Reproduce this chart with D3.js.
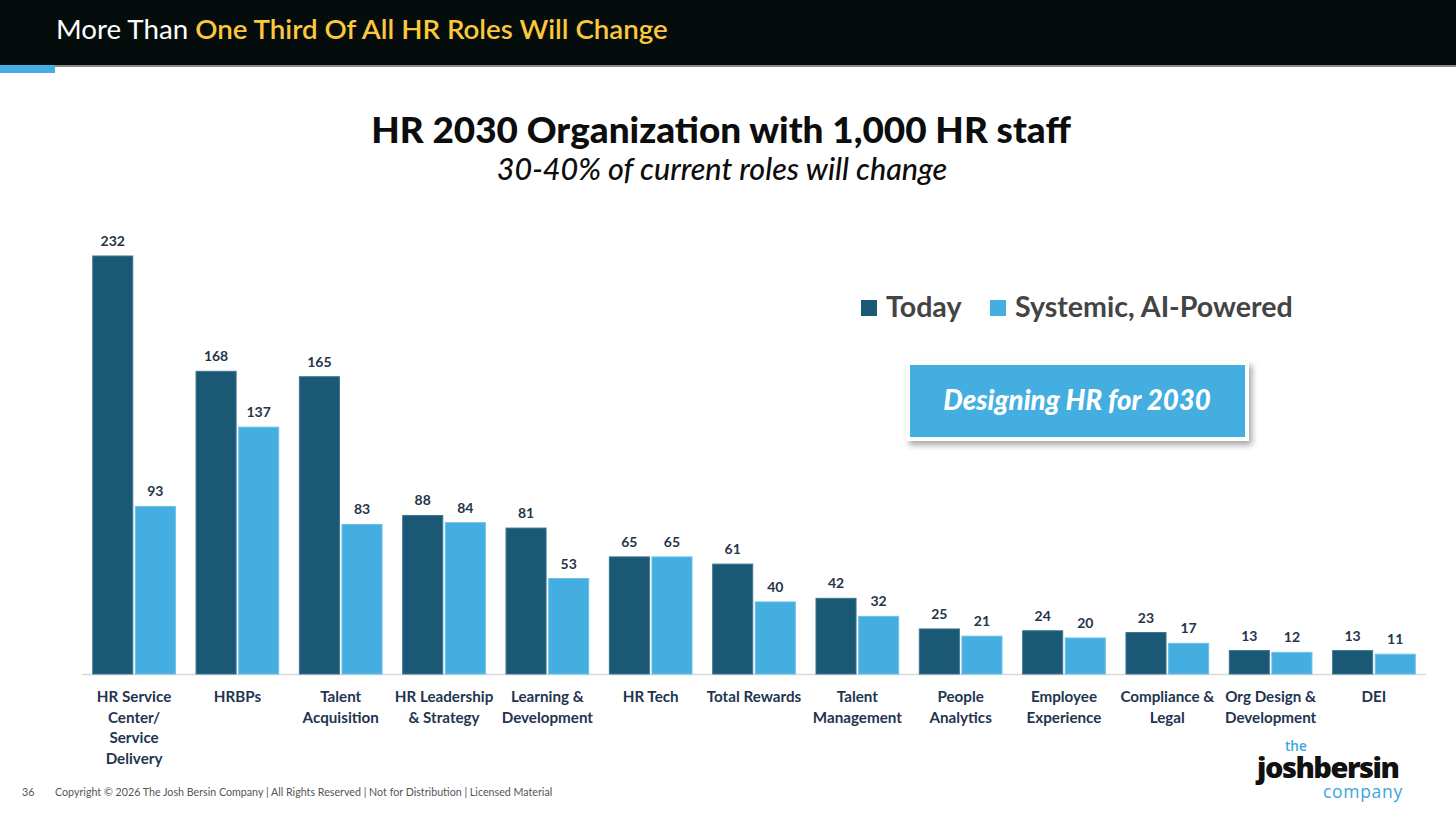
<!DOCTYPE html>
<html>
<head>
<meta charset="utf-8">
<script src="https://cdn.jsdelivr.net/npm/d3@7"></script>
<style>
  html, body { margin: 0; padding: 0; background: #fff; }
  svg { display: block; }
</style>
</head>
<body>
<div id="canvas"></div>
<script>
// chart data
const categories = [
  "HR Service|Center/|Service|Delivery",
  "HRBPs",
  "Talent|Acquisition",
  "HR Leadership|& Strategy",
  "Learning &|Development",
  "HR Tech",
  "Total Rewards",
  "Talent|Management",
  "People|Analytics",
  "Employee|Experience",
  "Compliance &|Legal",
  "Org Design &|Development",
  "DEI"
];
const today = [232, 168, 165, 88, 81, 65, 61, 42, 25, 24, 23, 13, 13];
const aiPowered = [93, 137, 83, 84, 53, 65, 40, 32, 21, 20, 17, 12, 11];
const seriesNames = ["Today", "Systemic, AI-Powered"];
const seriesColors = ["#1a5875", "#45aee0"];

const width = 1456;
const height = 814;
const labelFont = "Lato, 'Open Sans', sans-serif";

const svg = d3
  .select("#canvas")
  .append("svg")
  .attr("width", width)
  .attr("height", height)
  .attr("viewBox", [0, 0, width, height]);

const defs = svg.append("defs");
const shadow = defs.append("filter").attr("id", "shadow").attr("x", "-10%").attr("y", "-20%").attr("width", "125%").attr("height", "150%");
shadow.append("feDropShadow").attr("dx", 3).attr("dy", 4).attr("stdDeviation", 3).attr("flood-color", "#000").attr("flood-opacity", 0.35);

// header band
svg.append("rect").attr("x", 0).attr("y", 0).attr("width", width).attr("height", 65).attr("fill", "#050c0c");
svg.append("rect").attr("x", 0).attr("y", 65).attr("width", width).attr("height", 2).attr("fill", "#8a8a8a");
svg.append("rect").attr("x", 0).attr("y", 65).attr("width", 55).attr("height", 8).attr("fill", "#45aee0");

const head = svg.append("text")
  .attr("x", 56)
  .attr("y", 39)
  .attr("font-family", labelFont)
  .attr("font-size", 27.7);
head.append("tspan").attr("fill", "#fff").attr("font-weight", 400).text("More Than ");
head.append("tspan").attr("fill", "#fbc73c").attr("font-weight", 600).text("One Third Of All HR Roles Will Change");

// titles
svg.append("text")
  .attr("x", 721).attr("y", 143)
  .attr("text-anchor", "middle")
  .attr("font-family", labelFont)
  .attr("font-weight", 900)
  .attr("font-size", 36.9)
  .attr("fill", "#0d0d0d")
  .text("HR 2030 Organization with 1,000 HR staff");

svg.append("text")
  .attr("x", 722).attr("y", 180)
  .attr("text-anchor", "middle")
  .attr("font-family", labelFont)
  .attr("font-style", "italic")
  .attr("font-weight", 500)
  .attr("font-size", 30.5)
  .attr("fill", "#0d0d0d")
  .text("30-40% of current roles will change");

// scales
const x0 = d3.scaleBand(d3.range(categories.length), [82.4, 1425.6])
  .paddingInner(0.2)
  .paddingOuter(0.1);
const x1 = d3.scaleBand([0, 1], [0, x0.bandwidth()]).paddingInner(0.06);
const y = d3.scaleLinear([0, 232], [674, 256]);

// axis line
svg.append("line")
  .attr("x1", 82).attr("x2", 1426)
  .attr("y1", y(0) + 0.5).attr("y2", y(0) + 0.5)
  .attr("stroke", "#d9d9d9")
  .attr("stroke-width", 1.5);

const groups = svg.append("g")
  .selectAll("g")
  .data(categories)
  .join("g")
  .attr("transform", (d, i) => `translate(${x0(i)},0)`);

groups.each(function (d, i) {
  const g = d3.select(this);
  [today[i], aiPowered[i]].forEach((v, s) => {
    g.append("rect")
      .attr("x", x1(s))
      .attr("y", y(v))
      .attr("width", x1.bandwidth())
      .attr("height", y(0) - y(v))
      .attr("fill", seriesColors[s])
      .attr("stroke", s === 0 ? "#3d7690" : "#6cc0e8")
      .attr("stroke-width", 1);
    g.append("text")
      .attr("x", x1(s) + x1.bandwidth() / 2)
      .attr("y", y(v) - 10)
      .attr("text-anchor", "middle")
      .attr("font-family", labelFont)
      .attr("font-weight", 700)
      .attr("font-size", 14)
      .attr("fill", "#253449")
      .text(v);
  });

  // category label
  const lines = d.split("|");
  const t = g.append("text")
    .attr("text-anchor", "middle")
    .attr("font-family", labelFont)
    .attr("font-weight", 700)
    .attr("font-size", 15.2)
    .attr("fill", "#1f3550");
  lines.forEach((ln, k) => {
    t.append("tspan")
      .attr("x", x0.bandwidth() / 2)
      .attr("y", 702 + k * 20.5)
      .text(ln);
  });
});

// legend
const legend = svg.append("g").attr("transform", "translate(861,300)");
const legendX = [0, 129];
seriesNames.forEach((name, s) => {
  legend.append("rect")
    .attr("x", legendX[s]).attr("y", 0)
    .attr("width", 16).attr("height", 16)
    .attr("fill", seriesColors[s]);
  legend.append("text")
    .attr("x", legendX[s] + 25).attr("y", 17)
    .attr("font-family", labelFont)
    .attr("font-weight", 700)
    .attr("font-size", 28.6)
    .attr("fill", "#444")
    .text(name);
});

// call-out box
svg.append("rect")
  .attr("x", 906).attr("y", 361)
  .attr("width", 343).attr("height", 80)
  .attr("fill", "#fff")
  .attr("filter", "url(#shadow)");
svg.append("rect")
  .attr("x", 910).attr("y", 365)
  .attr("width", 335).attr("height", 72)
  .attr("fill", "#45aee0");
svg.append("text")
  .attr("x", 1077).attr("y", 410)
  .attr("text-anchor", "middle")
  .attr("font-family", labelFont)
  .attr("font-weight", 900)
  .attr("font-style", "italic")
  .attr("font-size", 27.6)
  .attr("fill", "#fff")
  .text("Designing HR for 2030");

// logo, one stacked text block
const logo = svg.append("text")
  .attr("font-family", "'Open Sans', sans-serif");
logo.append("tspan")
  .attr("x", 1285).attr("y", 751)
  .attr("font-weight", 600)
  .attr("font-size", 13.5)
  .attr("fill", "#3aa6e0")
  .text("the");
logo.append("tspan")
  .attr("x", 1257).attr("y", 778)
  .attr("font-weight", 800)
  .attr("font-size", 29)
  .attr("letter-spacing", -1.5)
  .attr("fill", "#111")
  .text("joshbersin");
logo.append("tspan")
  .attr("x", 1323).attr("y", 798)
  .attr("font-weight", 500)
  .attr("font-size", 17.5)
  .attr("letter-spacing", 0.7)
  .attr("fill", "#3aa6e0")
  .text("company");

// footer
svg.append("text")
  .attr("x", 22).attr("y", 796)
  .attr("font-family", labelFont)
  .attr("font-size", 10.7)
  .attr("fill", "#555")
  .text("36");
svg.append("text")
  .attr("x", 55).attr("y", 796)
  .attr("font-family", labelFont)
  .attr("font-size", 10.7)
  .attr("fill", "#555")
  .text("Copyright © 2026 The Josh Bersin Company | All Rights Reserved | Not for Distribution  | Licensed Material");
</script>
</body>
</html>
